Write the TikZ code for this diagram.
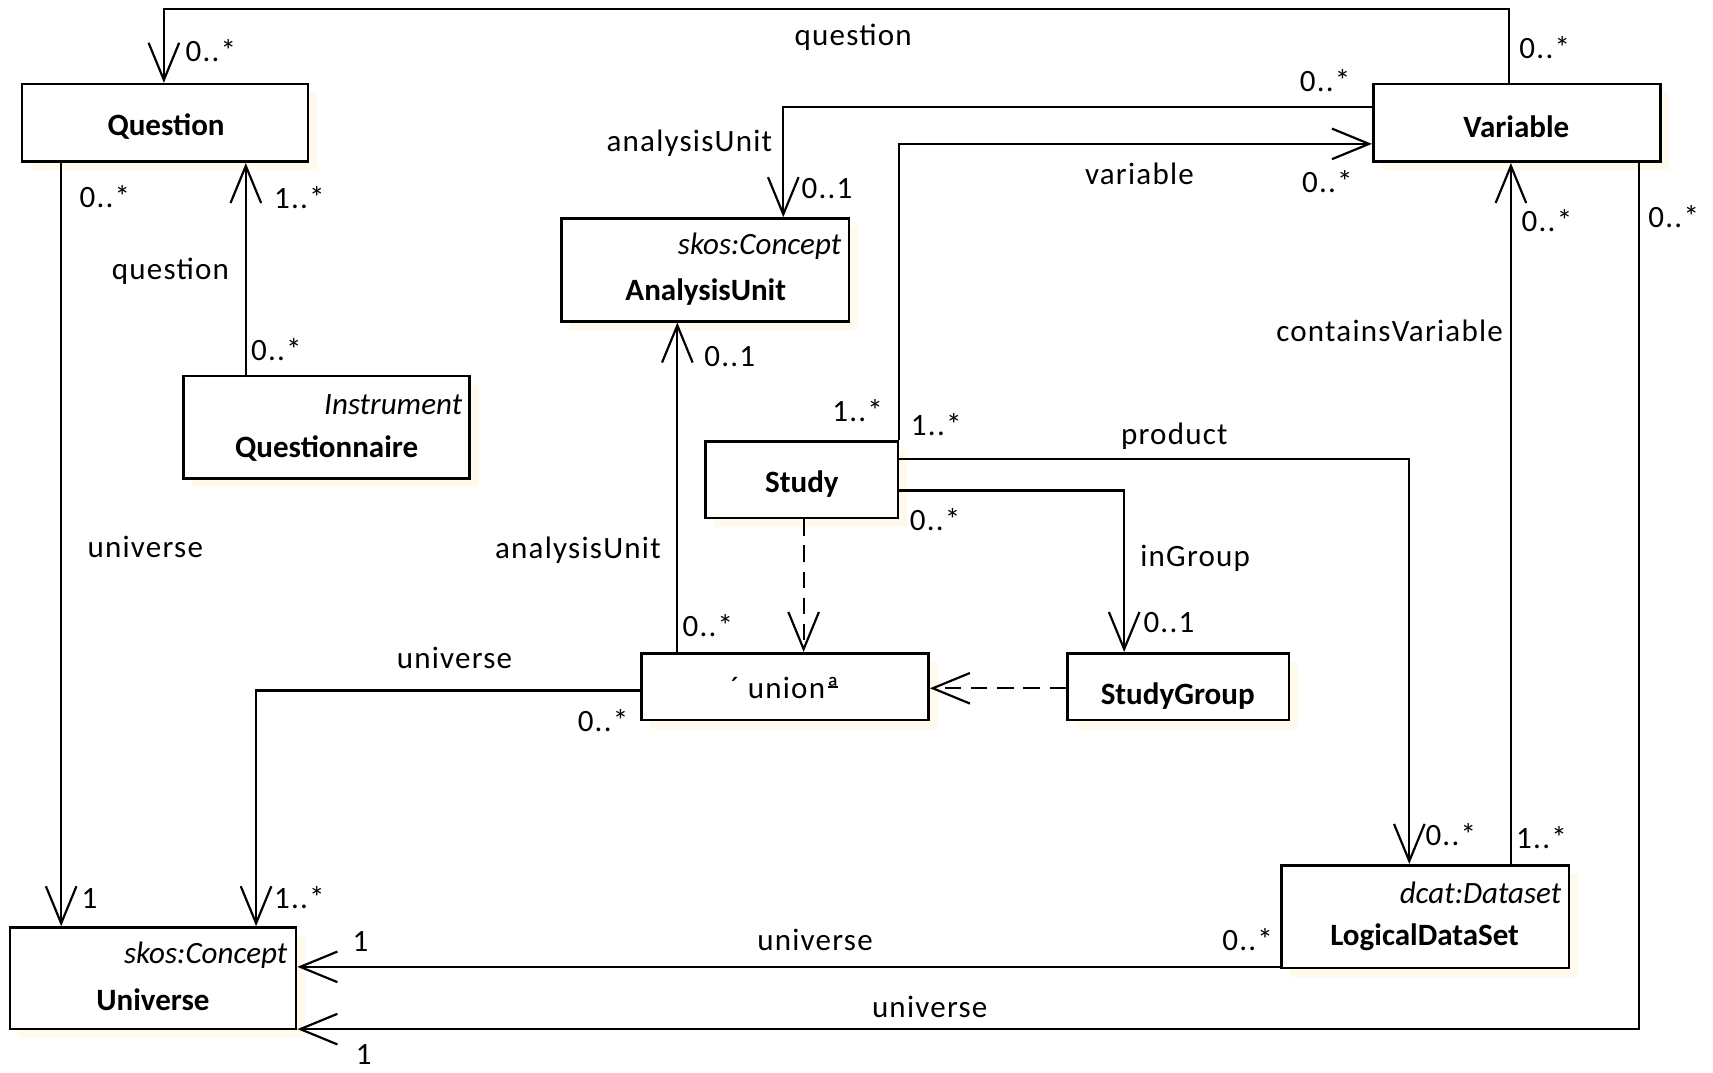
\documentclass[tikz,border=0pt]{standalone}
\usepackage{fontspec}
\setmainfont{Carlito}
\newfontfamily\lab{Carlito}[LetterSpace=4]
\usetikzlibrary{arrows.meta,shadows}
\definecolor{shadowc}{RGB}{255,250,236}
\begin{document}
\begin{tikzpicture}[x=0.5pt,y=-0.5pt, line width=1pt,
  cls/.style={draw, fill=white, inner sep=0pt, line width=1.2pt,
    drop shadow={shadow xshift=4pt,shadow yshift=-4pt,fill=shadowc,opacity=1}},
  nm/.style={font=\fontsize{14.2}{16}\selectfont\bfseries, inner sep=0pt},
  st/.style={font=\fontsize{14.2}{16}\selectfont\itshape, inner sep=0pt, anchor=east},
  lbl/.style={font={\lab\fontsize{14.2}{16}\selectfont}, inner sep=0pt},
  assoc/.style={-{Straight Barb[length=17pt,width=14pt]}},
  dep/.style={assoc, dash pattern=on 7.5pt off 4.5pt}]
\useasboundingbox (0,0) rectangle (1568,982);

% class boxes
\node[cls, minimum width=131pt,   minimum height=35.5pt] (q)   at (151,112.5) {};
\node[cls, minimum width=131.5pt, minimum height=35.5pt] (var) at (1388.5,112.5) {};
\node[cls, minimum width=131.5pt, minimum height=47pt]   (au)  at (645.5,247) {};
\node[cls, minimum width=131pt,   minimum height=47pt]   (qn)  at (299,391) {};
\node[cls, minimum width=88pt,    minimum height=35pt]   (st)  at (734,439) {};
\node[cls, minimum width=131.5pt, minimum height=30.5pt] (un)  at (718.5,628.5) {};
\node[cls, minimum width=101.5pt, minimum height=30.5pt] (sg)  at (1078.5,628.5) {};
\node[cls, minimum width=131.5pt, minimum height=47pt]   (lds) at (1304.5,839) {};
\node[cls, minimum width=131pt,   minimum height=46.5pt] (uni) at (140,895.5) {};

% class texts
\node[nm] (qT)   at (152,116) {Question};
\node[nm] (varT) at (1388,116) {Variable};
\node[st] (auS)  at (771,225) {skos:Concept};
\node[nm] (auT)  at (646,267) {AnalysisUnit};
\node[st] (qnS)  at (424,370) {Instrument};
\node[nm] (qnT)  at (299,411) {Questionnaire};
\node[nm] (stT)  at (734,443) {Study};
\node[lbl] (unT) at (718,630) {´ unionª\kern-0.36em\rule[0.34em]{0.34em}{0.06em}};
\node[nm] (sgT)  at (1078,637) {StudyGroup};
\node[st] (ldsS) at (1430,817) {dcat:Dataset};
\node[nm] (ldsT) at (1304,858) {LogicalDataSet};
\node[st] (uniS) at (264,874) {skos:Concept};
\node[nm] (uniT) at (140,915) {Universe};

% connectors
\draw[assoc] (var.north -| 1381,0) -- (1381,8.5) -- (150,8.5) -- (q.north -| 150,0);
\draw[assoc] (var.west |- 0,97.7) -- (717,97.7) -- (au.north -| 717,0);
\draw[assoc] (st.north -| 823,0) -- (823,131.7) -- (var.west |- 0,131.7);
\draw[assoc] (qn.north -| 225,0) -- (q.south -| 225,0);
\draw[assoc] (q.south -| 56,0) -- (uni.north -| 56,0);
\draw[assoc] (un.north -| 620,0) -- (au.south -| 620,0);
\draw[dep] (st.south -| 735.6,0) -- (un.north -| 735.6,0);
\draw[dep] (sg.west |- 0,630) -- (un.east |- 0,630);
\draw[assoc] (st.east |- 0,449) -- (1029,449) -- (sg.north -| 1029,0);
\draw[assoc] (st.east |- 0,420) -- (1290,420) -- (lds.north -| 1290,0);
\draw[assoc] (lds.north -| 1383,0) -- (var.south -| 1383,0);
\draw[assoc] (un.west |- 0,632) -- (234.4,632) -- (uni.north -| 234.4,0);
\draw[assoc] (lds.west |- 0,885) -- (uni.east |- 0,885);
\draw[assoc] (var.south -| 1500,0) -- (1500,942) -- (uni.east |- 0,942);

% labels
\node[lbl] (l1)  at (781,34)   {question};
\node[lbl] (l2)  at (193,46)   {0..*};
\node[lbl] (l3)  at (1414,44)  {0..*};
\node[lbl] (l4)  at (1213,74)  {0..*};
\node[lbl] (l5)  at (631,131)  {analysisUnit};
\node[lbl] (l6)  at (757,173)  {0..1};
\node[lbl] (l7)  at (1043,159) {variable};
\node[lbl] (l8)  at (1215,166) {0..*};
\node[lbl] (l9)  at (1416,202) {0..*};
\node[lbl] (l10) at (1532,198) {0..*};
\node[lbl] (l11) at (96,180)   {0..*};
\node[lbl] (l12) at (274,181)  {1..*};
\node[lbl] (l13) at (156,248)  {question};
\node[lbl] (l14) at (253,320)  {0..*};
\node[lbl] (l15) at (1272,303) {containsVariable};
\node[lbl] (l16) at (668,326)  {0..1};
\node[lbl] (l17) at (785,376)  {1..*};
\node[lbl] (l18) at (857,389)  {1..*};
\node[lbl] (l19) at (1075,399) {product};
\node[lbl] (l20) at (856,476)  {0..*};
\node[lbl] (l21) at (133,501)  {universe};
\node[lbl] (l22) at (529,504)  {analysisUnit};
\node[lbl] (l23) at (1094,511) {inGroup};
\node[lbl] (l24) at (648,573)  {0..*};
\node[lbl] (l25) at (1070,570) {0..1};
\node[lbl] (l26) at (416,602)  {universe};
\node[lbl] (l27) at (552,660)  {0..*};
\node[lbl] (l28) at (1328,764) {0..*};
\node[lbl] (l29) at (1411,767) {1..*};
\node[lbl] (l30) at (82,822)   {1};
\node[lbl] (l31) at (274,822)  {1..*};
\node[lbl] (l32) at (330,862)  {1};
\node[lbl] (l33) at (746,860)  {universe};
\node[lbl] (l34) at (1142,860) {0..*};
\node[lbl] (l35) at (851,922)  {universe};
\node[lbl] (l36) at (333,965)  {1};
\end{tikzpicture}
\end{document}
